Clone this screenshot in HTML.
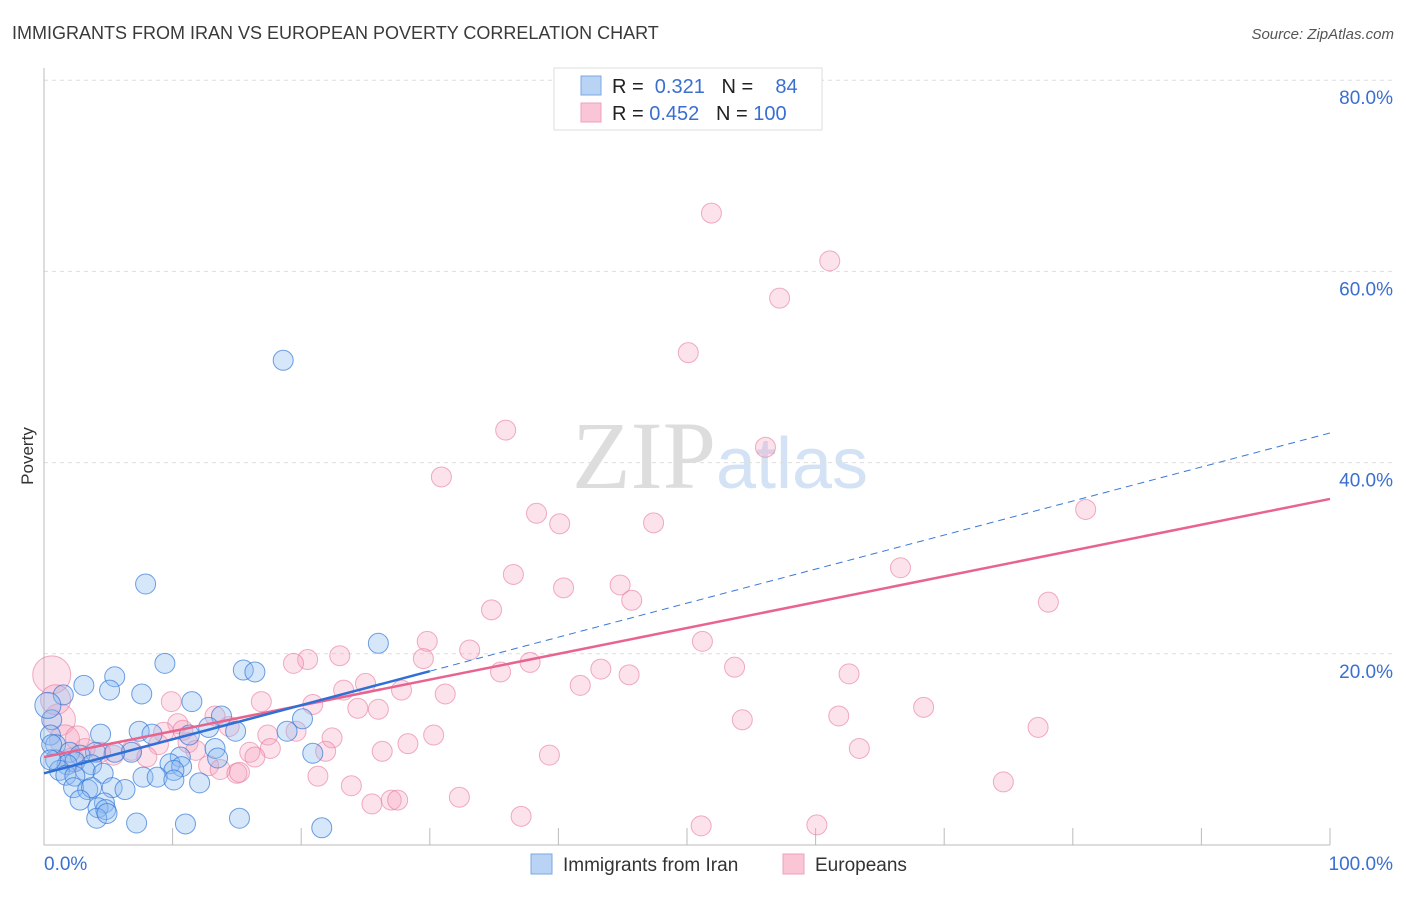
<!DOCTYPE html>
<html><head><meta charset="utf-8"><style>
body{margin:0;background:#fff;font-family:"Liberation Sans",sans-serif;}
svg text{font-family:"Liberation Sans",sans-serif;}
</style></head><body>
<svg width="1406" height="892" xmlns="http://www.w3.org/2000/svg" id="c">
<text x="12" y="39" font-size="18" fill="#3a3a3a">IMMIGRANTS FROM IRAN VS EUROPEAN POVERTY CORRELATION CHART</text>
<text x="1394" y="39" font-size="15" fill="#555" font-style="italic" text-anchor="end">Source: ZipAtlas.com</text>
<text x="720" y="488" font-size="96" text-anchor="middle"><tspan fill="#ddd" font-family="Liberation Serif">ZIP</tspan><tspan fill="#d4e2f5" font-size="72">atlas</tspan></text>
<text transform="translate(33,456) rotate(-90)" font-size="17" fill="#333" text-anchor="middle">Poverty</text>
<g id="grid"></g><g id="pts"></g><g id="lines"></g>
<g>
<rect x="554" y="68" width="268" height="62" fill="#fff" stroke="#ddd"/>
<rect x="581" y="76" width="20" height="19" fill="#b9d3f5" stroke="#7aa7e3"/>
<rect x="581" y="103" width="20" height="19" fill="#fac6d6" stroke="#eea0b8"/>
<text x="612" y="93" font-size="20" fill="#222">R = <tspan fill="#3a6fd0">&#160;0.321</tspan>&#160;&#160;&#160;N = <tspan fill="#3a6fd0">&#160;&#160;&#160;84</tspan></text>
<text x="612" y="120" font-size="20" fill="#222">R = <tspan fill="#3a6fd0">0.452</tspan>&#160;&#160;&#160;N = <tspan fill="#3a6fd0">100</tspan></text>
</g>
<g>
<rect x="531" y="854" width="21" height="20" fill="#b9d3f5" stroke="#7aa7e3"/>
<text x="563" y="871" font-size="19" fill="#333">Immigrants from Iran</text>
<rect x="783" y="854" width="21" height="20" fill="#fac6d6" stroke="#eea0b8"/>
<text x="815" y="871" font-size="19" fill="#333">Europeans</text>
</g>
</svg>
<script>
const yTicks=[20,40,60,80];
const yTickLabels=["20.0%","40.0%","60.0%","80.0%"];
const blueX=[18.6,7.9,26,9.4,15.5,16.4,5.5,3.1,5.1,1.5,7.6,11.5,13.8,20.1,0.6,14.9,12.8,18.9,7.4,4.4,8.4,11.3,0.5,0.9,13.3,6.8,20.9,4,2,2.8,5.5,10.6,13.5,0.9,2.4,3.7,1.8,9.8,10.7,1.2,3.2,10.1,4.6,1.7,2.4,7.7,8.8,10.1,12.1,5.3,6.3,2.3,3.4,3.7,2.8,4.7,4.2,4.8,4.1,4.9,7.2,11,15.2,21.6,0.6,0.5,0.3];
const blueY=[50.7,27.3,21.1,19,18.3,18.1,17.6,16.7,16.2,15.7,15.8,15,13.5,13.2,13.1,11.9,12.3,11.9,11.9,11.6,11.6,11.5,11.5,10.5,10.1,9.7,9.6,9.7,9.7,9.4,9.7,9.2,9.1,8.9,8.7,8.4,8.4,8.5,8.2,7.8,7.8,7.8,7.5,7.3,7.2,7.1,7.1,6.8,6.5,6,5.8,6,5.8,6,4.7,4.4,3.9,3.7,2.8,3.3,2.3,2.2,2.8,1.8,10.5,8.9,14.6];
const blueSize=[1,1,1,1,1,1,1,1,1,1,1,1,1,1,1,1,1,1,1,1,1,1,1,1,1,1,1,1,1,1,1,1,1,1,1,1,1,1,1,1,1,1,1,1,1,1,1,1,1,1,1,1,1,1,1,1,1,1,1,1,1,1,1,1,1,1,1.3];
const pinkX=[51.9,61.1,57.2,50.1,35.9,56.1,30.9,38.3,40.1,47.4,81,36.5,66.6,44.8,40.4,45.7,78.1,34.8,29.8,51.2,33.1,23,20.5,19.4,29.5,37.8,53.7,43.3,35.5,45.5,62.6,25,41.7,27.8,23.3,31.2,16.9,9.9,20.9,24.4,26,68.4,61.8,54.3,13.3,77.3,10.4,10.8,14.4,17.4,19.6,22.4,30.3,28.3,9.3,11.2,8.9,17.6,16,26.3,21.9,11.8,39.3,63.4,6.8,5.4,4.4,16.4,8,12.8,13.7,15,15.2,21.3,23.9,74.6,32.3,27,27.5,25.5,37.1,51.1,60.1,0.6,1.2,1.6,2.2,3.2,0.9,2.6];
const pinkY=[66.1,61.1,57.2,51.5,43.4,41.6,38.5,34.7,33.6,33.7,35.1,28.3,29,27.2,26.9,25.6,25.4,24.6,21.3,21.3,20.4,19.8,19.4,19,19.5,19.1,18.6,18.4,18.1,17.8,17.9,16.9,16.7,16.2,16.2,15.8,15,15,14.7,14.3,14.2,14.4,13.5,13.1,13.5,12.3,12.7,12,12.4,11.5,11.9,11.2,11.5,10.6,11.8,10.7,10.5,10.1,9.7,9.8,9.8,9.9,9.4,10.1,9.9,9.4,9.7,9.2,9.2,8.3,7.9,7.5,7.6,7.2,6.2,6.6,5,4.7,4.7,4.3,3,2,2.1,17.8,13.1,11,8.9,10.1,15.2,11.2];
const pinkSize=[1,1,1,1,1,1,1,1,1,1,1,1,1,1,1,1,1,1,1,1,1,1,1,1,1,1,1,1,1,1,1,1,1,1,1,1,1,1,1,1,1,1,1,1,1,1,1,1,1,1,1,1,1,1,1,1,1,1,1,1,1,1,1,1,1,1,1,1,1,1,1,1,1,1,1,1,1,1,1,1,1,1,1,1.9,1.6,1.5,1.2,1,1.5,1.2];
const blueTrend=[7.5,43.1]; const blueSolidEnd=30;
const pinkTrend=[9.2,36.2];
const X=v=>44+v*12.86, Y=v=>845-v*9.56;
const NS='http://www.w3.org/2000/svg';
function mk(t,a,p){const e=document.createElementNS(NS,t);for(const k in a)e.setAttribute(k,a[k]);p.appendChild(e);return e;}
const g=document.getElementById('grid');
yTicks.forEach((t,i)=>{
 const l=mk('line',{x1:44,x2:1395,y1:Y(t),y2:Y(t),stroke:'#ddd','stroke-dasharray':'4,4'},g);
 
 
 const tx=mk('text',{x:1393,y:Y(t)+24,'font-size':19,fill:'#3a6fd0','text-anchor':'end'},g);
 tx.textContent=yTickLabels[i];
 
 
});
mk('line',{x1:44,x2:44,y1:68,y2:845,stroke:'#bbb'},g);
mk('line',{x1:44,x2:1330,y1:845,y2:845,stroke:'#bbb'},g);
for(let i=1;i<=10;i++){const t=mk('line',{x1:X(i*10),x2:X(i*10),y1:828,y2:845,stroke:'#bbb'},g);}
let t0=mk('text',{x:44,y:870,'font-size':19,fill:'#3a6fd0'},g);t0.textContent='0.0%';


let t1=mk('text',{x:1393,y:870,'font-size':19,fill:'#3a6fd0','text-anchor':'end'},g);t1.textContent='100.0%';


const p=document.getElementById('pts');
pinkX.forEach((v,i)=>{const c=mk('circle',{cx:X(v),cy:Y(pinkY[i]),r:10*pinkSize[i],fill:'rgba(246,160,188,0.3)',stroke:'rgba(232,120,155,0.6)','stroke-width':1},p);
 
 });
blueX.forEach((v,i)=>{const c=mk('circle',{cx:X(v),cy:Y(blueY[i]),r:10*blueSize[i],fill:'rgba(140,185,240,0.35)',stroke:'rgba(50,120,215,0.7)','stroke-width':1},p);
 
 });
const L=document.getElementById('lines');
const by=x=>blueTrend[0]+(blueTrend[1]-blueTrend[0])*x/100;
let a=mk('line',{x1:X(blueSolidEnd),y1:Y(by(blueSolidEnd)),x2:X(100),y2:Y(by(100)),stroke:'#3a78d8','stroke-width':1,'stroke-dasharray':'7,5'},L);


let b=mk('line',{x1:X(0),y1:Y(pinkTrend[0]),x2:X(100),y2:Y(pinkTrend[1]),stroke:'#e8648f','stroke-width':2.5},L);


let s=mk('line',{x1:X(0),y1:Y(by(0)),x2:X(blueSolidEnd),y2:Y(by(blueSolidEnd)),stroke:'#2f6fd6','stroke-width':2.5},L);


</script>
</body></html>
